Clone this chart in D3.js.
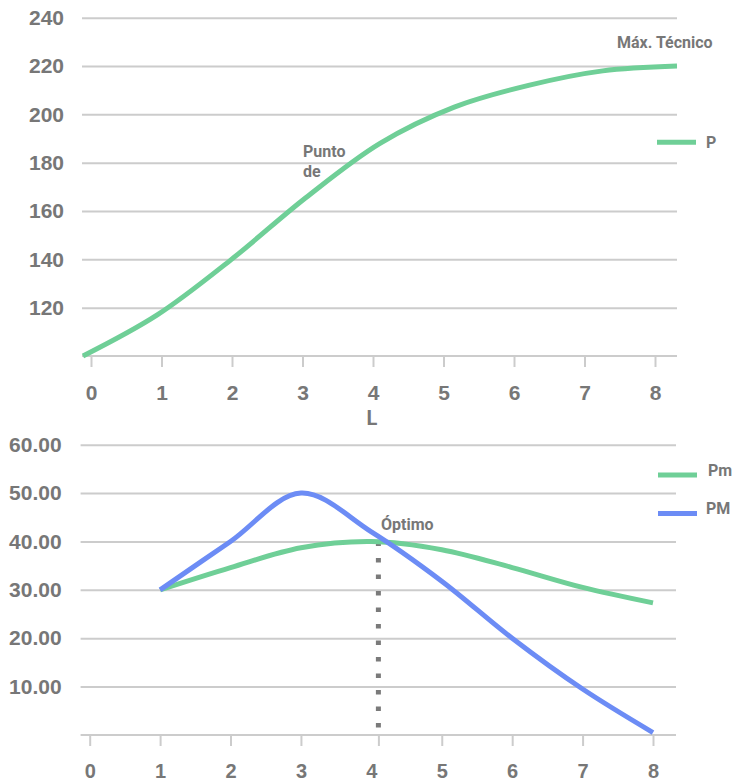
<!DOCTYPE html>
<html>
<head>
<meta charset="utf-8">
<script src="https://cdn.jsdelivr.net/npm/d3@7"></script>
<style>
  html, body { margin: 0; padding: 0; background: #fff; }
  svg { display: block; font-family: Roboto, "Noto Sans", sans-serif; }
  .tick text { fill: #777; font-weight: bold; }
</style>
</head>
<body>
<svg id="chart" width="735" height="782"></svg>
<script>
// ---- Data ----
const topL = [0, 1, 2, 3, 4, 5, 6, 7, 8];
const topP = [100, 117, 140, 165.5, 188, 203, 212, 218, 220];
const topYTicks = [120, 140, 160, 180, 200, 220, 240];
const topXTicks = [0, 1, 2, 3, 4, 5, 6, 7, 8];

const botL = [1, 2, 3, 4, 5, 6, 7, 8];
const botPm = [30, 34.6, 38.7, 40, 38.3, 34.6, 30.5, 27.3];
const botPM = [30, 40, 50, 42, 31.8, 20, 9.5, 0.5];
const botYTicks = [10, 20, 30, 40, 50, 60];
const botXTickMarks = [0, 1, 2, 3, 4.1, 5, 6, 7, 8];
const botXLabels = [0, 1, 2, 3, 4, 5, 6, 7, 8];
const optimoL = 4.1;
const optimoRange = [40, 1.5];

const GREEN = "#6fcf97";
const BLUE = "#6c8cf5";
const GRID = "#cccccc";
const TXT = "#777777";

const svg = d3.select("#chart");

// ================= TOP CHART =================
const xTopTick = d3.scaleLinear().domain([0, 8]).range([91, 655]);
const xTopLine = d3.scaleLinear().domain([0, 8]).range([83, 677]);
const yTop = d3.scaleLinear().domain([100, 240]).range([356, 17.7]);
const gridLeft = 82, gridRight = 677;

const gTopY = svg.append("g")
  .attr("transform", `translate(${gridLeft},0)`)
  .call(d3.axisLeft(yTop).tickValues(topYTicks).tickSize(-(gridRight - gridLeft)).tickPadding(18).tickFormat(d3.format("d")));
gTopY.select(".domain").remove();
gTopY.selectAll(".tick line").attr("stroke", GRID).attr("stroke-width", 2);
gTopY.selectAll(".tick text").attr("font-size", 21);

svg.append("line")
  .attr("x1", gridLeft).attr("x2", gridRight)
  .attr("y1", yTop(100)).attr("y2", yTop(100))
  .attr("stroke", GRID).attr("stroke-width", 2);

const gTopX = svg.append("g")
  .attr("transform", `translate(0,${yTop(100)})`)
  .call(d3.axisBottom(xTopTick).tickValues(topXTicks).tickSize(11).tickPadding(18).tickFormat(d3.format("d")));
gTopX.select(".domain").remove();
gTopX.selectAll(".tick line").attr("stroke", GRID).attr("stroke-width", 2);
gTopX.selectAll(".tick text").attr("font-size", 21);

svg.append("text")
  .attr("x", 372).attr("y", 425)
  .attr("text-anchor", "middle")
  .attr("font-size", 20).attr("font-weight", "bold").attr("fill", TXT)
  .text("L");

const topData = topL.map((l, i) => ({ l, v: topP[i] }));
svg.append("path")
  .datum(topData)
  .attr("fill", "none")
  .attr("stroke", GREEN)
  .attr("stroke-width", 5)
  .attr("d", d3.line().x(d => xTopLine(d.l)).y(d => yTop(d.v)).curve(d3.curveCatmullRom.alpha(0.5)));

svg.append("text")
  .attr("x", 617).attr("y", 48)
  .attr("font-size", 16).attr("font-weight", "bold").attr("fill", TXT)
  .text("Máx. Técnico");
const punto = svg.append("text")
  .attr("x", 303).attr("y", 157)
  .attr("font-size", 16).attr("font-weight", "bold").attr("fill", TXT);
punto.append("tspan").attr("x", 303).attr("dy", 0).text("Punto");
punto.append("tspan").attr("x", 303).attr("dy", 20).text("de");

svg.append("line")
  .attr("x1", 657).attr("x2", 696).attr("y1", 142.3).attr("y2", 142.3)
  .attr("stroke", GREEN).attr("stroke-width", 5);
svg.append("text")
  .attr("x", 706).attr("y", 148)
  .attr("font-size", 16).attr("font-weight", "bold").attr("fill", TXT)
  .text("P");

// ================= BOTTOM CHART =================
const xBot = d3.scaleLinear().domain([0, 8]).range([89.7, 653]);
const yBot = d3.scaleLinear().domain([0, 60]).range([735, 444.7]);
const gridLeft2 = 80.6, gridRight2 = 676;

const gBotY = svg.append("g")
  .attr("transform", `translate(${gridLeft2},0)`)
  .call(d3.axisLeft(yBot).tickValues(botYTicks).tickSize(-(gridRight2 - gridLeft2)).tickPadding(19).tickFormat(d3.format(".2f")));
gBotY.select(".domain").remove();
gBotY.selectAll(".tick line").attr("stroke", GRID).attr("stroke-width", 2);
gBotY.selectAll(".tick text").attr("font-size", 21);

svg.append("line")
  .attr("x1", gridLeft2).attr("x2", gridRight2)
  .attr("y1", yBot(0)).attr("y2", yBot(0))
  .attr("stroke", GRID).attr("stroke-width", 2);

const gBotXMarks = svg.append("g")
  .attr("transform", `translate(0,${yBot(0)})`)
  .call(d3.axisBottom(xBot).tickValues(botXTickMarks).tickSize(11).tickFormat(""));
gBotXMarks.select(".domain").remove();
gBotXMarks.selectAll(".tick line").attr("stroke", GRID).attr("stroke-width", 2);

const gBotXLab = svg.append("g")
  .attr("transform", `translate(0,${yBot(0)})`)
  .call(d3.axisBottom(xBot).tickValues(botXLabels).tickSize(0).tickPadding(28.5).tickFormat(d3.format("d")));
gBotXLab.select(".domain").remove();
gBotXLab.selectAll(".tick line").remove();
gBotXLab.selectAll(".tick text").attr("font-size", 20);

svg.append("line")
  .attr("x1", xBot(optimoL)).attr("x2", xBot(optimoL))
  .attr("y1", yBot(optimoRange[0])).attr("y2", yBot(optimoRange[1]))
  .attr("stroke", "#7a7a7a").attr("stroke-width", 5)
  .attr("stroke-dasharray", "4.5,12");

const lineBot = d3.line().x(d => xBot(d.l)).y(d => yBot(d.v)).curve(d3.curveCatmullRom.alpha(0.5));
const pmData = botL.map((l, i) => ({ l, v: botPm[i] }));
const PMData = botL.map((l, i) => ({ l, v: botPM[i] }));

svg.append("path").datum(pmData)
  .attr("fill", "none").attr("stroke", GREEN).attr("stroke-width", 5)
  .attr("d", lineBot);
svg.append("path").datum(PMData)
  .attr("fill", "none").attr("stroke", BLUE).attr("stroke-width", 5)
  .attr("d", lineBot);

svg.append("text")
  .attr("x", 381).attr("y", 530)
  .attr("font-size", 16).attr("font-weight", "bold").attr("fill", TXT)
  .text("Óptimo");

svg.append("line")
  .attr("x1", 658).attr("x2", 697).attr("y1", 475).attr("y2", 475)
  .attr("stroke", GREEN).attr("stroke-width", 5);
svg.append("text")
  .attr("x", 708).attr("y", 476)
  .attr("font-size", 16).attr("font-weight", "bold").attr("fill", TXT)
  .text("Pm");
svg.append("line")
  .attr("x1", 658).attr("x2", 697).attr("y1", 513.5).attr("y2", 513.5)
  .attr("stroke", BLUE).attr("stroke-width", 5);
svg.append("text")
  .attr("x", 706).attr("y", 514)
  .attr("font-size", 16).attr("font-weight", "bold").attr("fill", TXT)
  .text("PM");
</script>
</body>
</html>
